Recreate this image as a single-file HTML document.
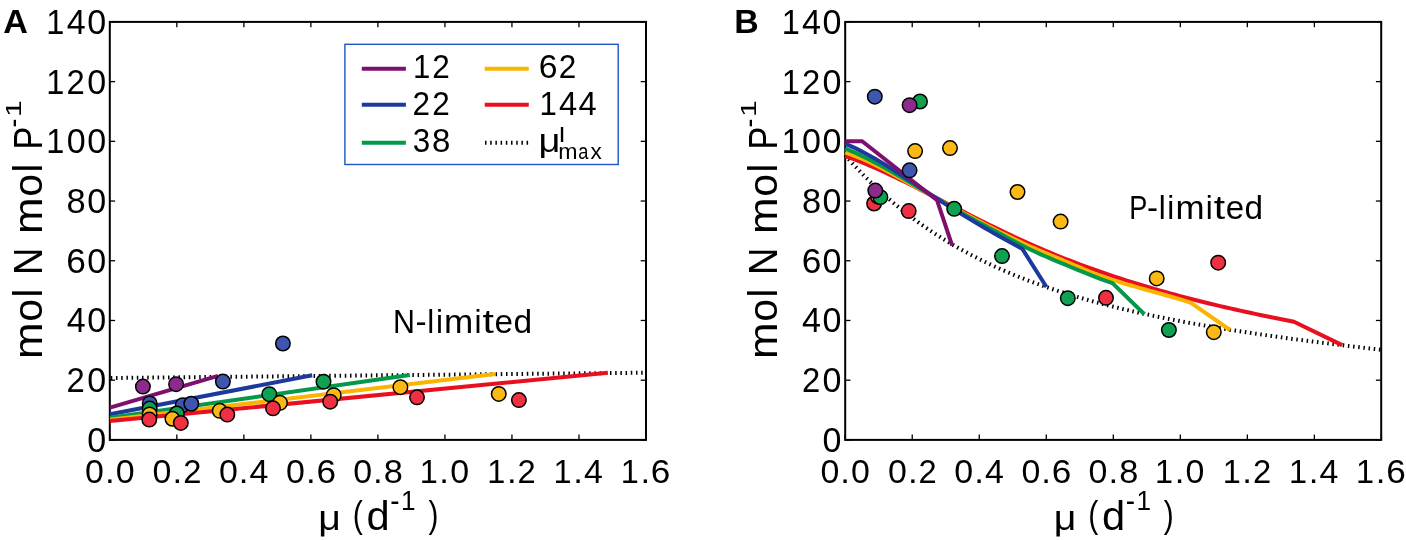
<!DOCTYPE html>
<html><head><meta charset="utf-8"><title>N:P ratio vs growth rate</title>
<style>
html,body{margin:0;padding:0;background:#fff;}
body{width:1406px;height:540px;overflow:hidden;}
svg{display:block;font-family:"Liberation Sans", sans-serif;will-change:transform;}
</style></head>
<body>
<svg width="1406" height="540" viewBox="0 0 1406 540">
<rect x="0" y="0" width="1406" height="540" fill="#fff"/>
<line x1="109.8" y1="439.9" x2="109.8" y2="434.6" stroke="#000" stroke-width="1.3"/>
<line x1="109.8" y1="21.9" x2="109.8" y2="27.2" stroke="#000" stroke-width="1.3"/>
<line x1="176.82" y1="439.9" x2="176.82" y2="434.6" stroke="#000" stroke-width="1.3"/>
<line x1="176.82" y1="21.9" x2="176.82" y2="27.2" stroke="#000" stroke-width="1.3"/>
<line x1="243.85" y1="439.9" x2="243.85" y2="434.6" stroke="#000" stroke-width="1.3"/>
<line x1="243.85" y1="21.9" x2="243.85" y2="27.2" stroke="#000" stroke-width="1.3"/>
<line x1="310.88" y1="439.9" x2="310.88" y2="434.6" stroke="#000" stroke-width="1.3"/>
<line x1="310.88" y1="21.9" x2="310.88" y2="27.2" stroke="#000" stroke-width="1.3"/>
<line x1="377.9" y1="439.9" x2="377.9" y2="434.6" stroke="#000" stroke-width="1.3"/>
<line x1="377.9" y1="21.9" x2="377.9" y2="27.2" stroke="#000" stroke-width="1.3"/>
<line x1="444.93" y1="439.9" x2="444.93" y2="434.6" stroke="#000" stroke-width="1.3"/>
<line x1="444.93" y1="21.9" x2="444.93" y2="27.2" stroke="#000" stroke-width="1.3"/>
<line x1="511.95" y1="439.9" x2="511.95" y2="434.6" stroke="#000" stroke-width="1.3"/>
<line x1="511.95" y1="21.9" x2="511.95" y2="27.2" stroke="#000" stroke-width="1.3"/>
<line x1="578.98" y1="439.9" x2="578.98" y2="434.6" stroke="#000" stroke-width="1.3"/>
<line x1="578.98" y1="21.9" x2="578.98" y2="27.2" stroke="#000" stroke-width="1.3"/>
<line x1="646" y1="439.9" x2="646" y2="434.6" stroke="#000" stroke-width="1.3"/>
<line x1="646" y1="21.9" x2="646" y2="27.2" stroke="#000" stroke-width="1.3"/>
<line x1="109.8" y1="439.9" x2="115.1" y2="439.9" stroke="#000" stroke-width="1.3"/>
<line x1="646" y1="439.9" x2="640.7" y2="439.9" stroke="#000" stroke-width="1.3"/>
<line x1="109.8" y1="380.19" x2="115.1" y2="380.19" stroke="#000" stroke-width="1.3"/>
<line x1="646" y1="380.19" x2="640.7" y2="380.19" stroke="#000" stroke-width="1.3"/>
<line x1="109.8" y1="320.47" x2="115.1" y2="320.47" stroke="#000" stroke-width="1.3"/>
<line x1="646" y1="320.47" x2="640.7" y2="320.47" stroke="#000" stroke-width="1.3"/>
<line x1="109.8" y1="260.76" x2="115.1" y2="260.76" stroke="#000" stroke-width="1.3"/>
<line x1="646" y1="260.76" x2="640.7" y2="260.76" stroke="#000" stroke-width="1.3"/>
<line x1="109.8" y1="201.04" x2="115.1" y2="201.04" stroke="#000" stroke-width="1.3"/>
<line x1="646" y1="201.04" x2="640.7" y2="201.04" stroke="#000" stroke-width="1.3"/>
<line x1="109.8" y1="141.33" x2="115.1" y2="141.33" stroke="#000" stroke-width="1.3"/>
<line x1="646" y1="141.33" x2="640.7" y2="141.33" stroke="#000" stroke-width="1.3"/>
<line x1="109.8" y1="81.61" x2="115.1" y2="81.61" stroke="#000" stroke-width="1.3"/>
<line x1="646" y1="81.61" x2="640.7" y2="81.61" stroke="#000" stroke-width="1.3"/>
<line x1="109.8" y1="21.9" x2="115.1" y2="21.9" stroke="#000" stroke-width="1.3"/>
<line x1="646" y1="21.9" x2="640.7" y2="21.9" stroke="#000" stroke-width="1.3"/>
<rect x="109.8" y="21.9" width="536.2" height="418" fill="none" stroke="#000" stroke-width="2"/>
<line x1="845.2" y1="439.9" x2="845.2" y2="434.6" stroke="#000" stroke-width="1.3"/>
<line x1="845.2" y1="21.9" x2="845.2" y2="27.2" stroke="#000" stroke-width="1.3"/>
<line x1="912.23" y1="439.9" x2="912.23" y2="434.6" stroke="#000" stroke-width="1.3"/>
<line x1="912.23" y1="21.9" x2="912.23" y2="27.2" stroke="#000" stroke-width="1.3"/>
<line x1="979.25" y1="439.9" x2="979.25" y2="434.6" stroke="#000" stroke-width="1.3"/>
<line x1="979.25" y1="21.9" x2="979.25" y2="27.2" stroke="#000" stroke-width="1.3"/>
<line x1="1046.28" y1="439.9" x2="1046.28" y2="434.6" stroke="#000" stroke-width="1.3"/>
<line x1="1046.28" y1="21.9" x2="1046.28" y2="27.2" stroke="#000" stroke-width="1.3"/>
<line x1="1113.3" y1="439.9" x2="1113.3" y2="434.6" stroke="#000" stroke-width="1.3"/>
<line x1="1113.3" y1="21.9" x2="1113.3" y2="27.2" stroke="#000" stroke-width="1.3"/>
<line x1="1180.33" y1="439.9" x2="1180.33" y2="434.6" stroke="#000" stroke-width="1.3"/>
<line x1="1180.33" y1="21.9" x2="1180.33" y2="27.2" stroke="#000" stroke-width="1.3"/>
<line x1="1247.35" y1="439.9" x2="1247.35" y2="434.6" stroke="#000" stroke-width="1.3"/>
<line x1="1247.35" y1="21.9" x2="1247.35" y2="27.2" stroke="#000" stroke-width="1.3"/>
<line x1="1314.38" y1="439.9" x2="1314.38" y2="434.6" stroke="#000" stroke-width="1.3"/>
<line x1="1314.38" y1="21.9" x2="1314.38" y2="27.2" stroke="#000" stroke-width="1.3"/>
<line x1="1381.4" y1="439.9" x2="1381.4" y2="434.6" stroke="#000" stroke-width="1.3"/>
<line x1="1381.4" y1="21.9" x2="1381.4" y2="27.2" stroke="#000" stroke-width="1.3"/>
<line x1="845.2" y1="439.9" x2="850.5" y2="439.9" stroke="#000" stroke-width="1.3"/>
<line x1="1381.2" y1="439.9" x2="1375.9" y2="439.9" stroke="#000" stroke-width="1.3"/>
<line x1="845.2" y1="380.19" x2="850.5" y2="380.19" stroke="#000" stroke-width="1.3"/>
<line x1="1381.2" y1="380.19" x2="1375.9" y2="380.19" stroke="#000" stroke-width="1.3"/>
<line x1="845.2" y1="320.47" x2="850.5" y2="320.47" stroke="#000" stroke-width="1.3"/>
<line x1="1381.2" y1="320.47" x2="1375.9" y2="320.47" stroke="#000" stroke-width="1.3"/>
<line x1="845.2" y1="260.76" x2="850.5" y2="260.76" stroke="#000" stroke-width="1.3"/>
<line x1="1381.2" y1="260.76" x2="1375.9" y2="260.76" stroke="#000" stroke-width="1.3"/>
<line x1="845.2" y1="201.04" x2="850.5" y2="201.04" stroke="#000" stroke-width="1.3"/>
<line x1="1381.2" y1="201.04" x2="1375.9" y2="201.04" stroke="#000" stroke-width="1.3"/>
<line x1="845.2" y1="141.33" x2="850.5" y2="141.33" stroke="#000" stroke-width="1.3"/>
<line x1="1381.2" y1="141.33" x2="1375.9" y2="141.33" stroke="#000" stroke-width="1.3"/>
<line x1="845.2" y1="81.61" x2="850.5" y2="81.61" stroke="#000" stroke-width="1.3"/>
<line x1="1381.2" y1="81.61" x2="1375.9" y2="81.61" stroke="#000" stroke-width="1.3"/>
<line x1="845.2" y1="21.9" x2="850.5" y2="21.9" stroke="#000" stroke-width="1.3"/>
<line x1="1381.2" y1="21.9" x2="1375.9" y2="21.9" stroke="#000" stroke-width="1.3"/>
<rect x="845.2" y="21.9" width="536" height="418" fill="none" stroke="#000" stroke-width="2"/>
<polyline points="110.8,378 645,372.7" fill="none" stroke="#000" stroke-width="4" stroke-dasharray="1.5 3.7" stroke-linecap="butt"/>
<polyline points="110,407.6 218,375.8" fill="none" stroke="#7f0f6f" stroke-width="4" stroke-linejoin="round" stroke-linecap="butt"/>
<polyline points="110,414.3 312.2,375.3" fill="none" stroke="#1c3a9c" stroke-width="4" stroke-linejoin="round" stroke-linecap="butt"/>
<polyline points="110,417.7 409.8,375" fill="none" stroke="#03984a" stroke-width="4" stroke-linejoin="round" stroke-linecap="butt"/>
<polyline points="110,419.7 495,374.1" fill="none" stroke="#fbb500" stroke-width="4" stroke-linejoin="round" stroke-linecap="butt"/>
<polyline points="110,421.1 607.9,372.75" fill="none" stroke="#e8101f" stroke-width="4" stroke-linejoin="round" stroke-linecap="butt"/>
<circle cx="142.9" cy="386.6" r="7.25" fill="#8d2a8d" stroke="#000" stroke-width="1.5"/>
<circle cx="176.1" cy="384.2" r="7.25" fill="#8d2a8d" stroke="#000" stroke-width="1.5"/>
<circle cx="149.7" cy="403.4" r="7.25" fill="#3f56b0" stroke="#000" stroke-width="1.5"/>
<circle cx="182.7" cy="405.2" r="7.25" fill="#3f56b0" stroke="#000" stroke-width="1.5"/>
<circle cx="191.25" cy="403.75" r="7.25" fill="#3f56b0" stroke="#000" stroke-width="1.5"/>
<circle cx="222.9" cy="381.6" r="7.25" fill="#3f56b0" stroke="#000" stroke-width="1.5"/>
<circle cx="282.9" cy="343.5" r="7.25" fill="#3f56b0" stroke="#000" stroke-width="1.5"/>
<circle cx="149.7" cy="408.6" r="7.25" fill="#0ea152" stroke="#000" stroke-width="1.5"/>
<circle cx="176.8" cy="413.5" r="7.25" fill="#0ea152" stroke="#000" stroke-width="1.5"/>
<circle cx="269.3" cy="394.2" r="7.25" fill="#0ea152" stroke="#000" stroke-width="1.5"/>
<circle cx="323.5" cy="381.7" r="7.25" fill="#0ea152" stroke="#000" stroke-width="1.5"/>
<circle cx="149.6" cy="414.4" r="7.25" fill="#fcb915" stroke="#000" stroke-width="1.5"/>
<circle cx="172.4" cy="418.75" r="7.25" fill="#fcb915" stroke="#000" stroke-width="1.5"/>
<circle cx="219.7" cy="410.8" r="7.25" fill="#fcb915" stroke="#000" stroke-width="1.5"/>
<circle cx="280" cy="402.8" r="7.25" fill="#fcb915" stroke="#000" stroke-width="1.5"/>
<circle cx="333.7" cy="395.2" r="7.25" fill="#fcb915" stroke="#000" stroke-width="1.5"/>
<circle cx="400.4" cy="387.2" r="7.25" fill="#fcb915" stroke="#000" stroke-width="1.5"/>
<circle cx="498.75" cy="393.9" r="7.25" fill="#fcb915" stroke="#000" stroke-width="1.5"/>
<circle cx="149.3" cy="419.6" r="7.25" fill="#ee3042" stroke="#000" stroke-width="1.5"/>
<circle cx="180.8" cy="422.9" r="7.25" fill="#ee3042" stroke="#000" stroke-width="1.5"/>
<circle cx="227.3" cy="414.6" r="7.25" fill="#ee3042" stroke="#000" stroke-width="1.5"/>
<circle cx="273" cy="408.3" r="7.25" fill="#ee3042" stroke="#000" stroke-width="1.5"/>
<circle cx="330.2" cy="401.7" r="7.25" fill="#ee3042" stroke="#000" stroke-width="1.5"/>
<circle cx="417" cy="397.3" r="7.25" fill="#ee3042" stroke="#000" stroke-width="1.5"/>
<circle cx="518.9" cy="400.1" r="7.25" fill="#ee3042" stroke="#000" stroke-width="1.5"/>
<polyline points="845.2,155.26 851.2,162.02 857.2,168.52 863.2,174.78 869.2,180.8 875.2,186.59 881.2,192.17 887.2,197.53 893.2,202.7 899.2,207.67 905.2,212.46 911.2,217.07 917.2,221.51 923.2,225.79 929.2,229.92 935.2,233.89 941.2,237.72 947.2,241.42 953.2,244.99 959.2,248.43 965.2,251.74 971.2,254.95 977.2,258.04 983.2,261.03 989.2,263.91 995.2,266.7 1001.2,269.39 1007.2,272 1013.2,274.52 1019.2,276.95 1025.2,279.31 1031.2,281.59 1037.2,283.8 1043.2,285.94 1049.2,288.01 1055.2,290.02 1061.2,291.97 1067.2,293.86 1073.2,295.69 1079.2,297.47 1085.2,299.2 1091.2,300.88 1097.2,302.51 1103.2,304.1 1109.2,305.64 1115.2,307.14 1121.2,308.6 1127.2,310.02 1133.2,311.41 1139.2,312.76 1145.2,314.07 1151.2,315.35 1157.2,316.61 1163.2,317.83 1169.2,319.02 1175.2,320.19 1181.2,321.33 1187.2,322.45 1193.2,323.54 1199.2,324.61 1205.2,325.65 1211.2,326.68 1217.2,327.68 1223.2,328.67 1229.2,329.64 1235.2,330.58 1241.2,331.52 1247.2,332.43 1253.2,333.33 1259.2,334.21 1265.2,335.08 1271.2,335.94 1277.2,336.78 1283.2,337.61 1289.2,338.43 1295.2,339.24 1301.2,340.03 1307.2,340.82 1313.2,341.59 1319.2,342.35 1325.2,343.11 1331.2,343.85 1337.2,344.59 1343.2,345.32 1349.2,346.04 1355.2,346.75 1361.2,347.46 1367.2,348.15 1373.2,348.84 1379.2,349.53 1381.2,349.76" fill="none" stroke="#000" stroke-width="4" stroke-dasharray="1.5 3.7" stroke-linecap="butt"/>
<polyline points="845.2,156.03 850.2,157.82 855.2,159.7 860.2,161.66 865.2,163.69 870.2,165.8 875.2,167.97 880.2,170.2 885.2,172.48 890.2,174.82 895.2,177.2 900.2,179.62 905.2,182.08 910.2,184.57 915.2,187.08 920.2,189.61 925.2,192.16 930.2,194.72 935.2,197.28 940.2,199.85 945.2,202.42 950.2,204.98 955.2,207.55 960.2,210.1 965.2,212.65 970.2,215.19 975.2,217.72 980.2,220.23 985.2,222.72 990.2,225.2 995.2,227.65 1000.2,230.09 1005.2,232.49 1010.2,234.87 1015.2,237.22 1020.2,239.54 1025.2,241.82 1030.2,244.07 1035.2,246.28 1040.2,248.45 1045.2,250.58 1050.2,252.68 1055.2,254.74 1060.2,256.76 1065.2,258.75 1070.2,260.7 1075.2,262.62 1080.2,264.51 1085.2,266.37 1090.2,268.19 1095.2,269.98 1100.2,271.74 1105.2,273.47 1110.2,275.17 1115.2,276.84 1120.2,278.48 1125.2,280.09 1130.2,281.67 1135.2,283.23 1140.2,284.76 1145.2,286.26 1150.2,287.74 1155.2,289.19 1160.2,290.62 1165.2,292.03 1170.2,293.41 1175.2,294.77 1180.2,296.11 1185.2,297.42 1190.2,298.72 1195.2,299.99 1200.2,301.25 1205.2,302.48 1210.2,303.7 1215.2,304.9 1220.2,306.08 1225.2,307.24 1230.2,308.39 1235.2,309.52 1240.2,310.63 1245.2,311.73 1250.2,312.82 1255.2,313.89 1260.2,314.95 1265.2,316 1270.2,317.03 1275.2,318.05 1280.2,319.07 1285.2,320.07 1290.2,321.06 1294,321.81 1342.2,345.1" fill="none" stroke="#e8101f" stroke-width="4" stroke-linejoin="round" stroke-linecap="butt"/>
<polyline points="845.2,152.62 850.2,154.22 855.2,156.03 860.2,158.02 865.2,160.18 870.2,162.49 875.2,164.92 880.2,167.46 885.2,170.08 890.2,172.76 895.2,175.5 900.2,178.25 905.2,181.02 910.2,183.78 915.2,186.55 920.2,189.32 925.2,192.09 930.2,194.85 935.2,197.61 940.2,200.36 945.2,203.1 950.2,205.83 955.2,208.55 960.2,211.25 965.2,213.94 970.2,216.61 975.2,219.26 980.2,221.89 985.2,224.49 990.2,227.07 995.2,229.63 1000.2,232.16 1005.2,234.65 1010.2,237.11 1015.2,239.53 1020.2,241.9 1025.2,244.22 1030.2,246.48 1035.2,248.68 1040.2,250.82 1045.2,252.94 1050.2,255.02 1055.2,257.1 1060.2,259.17 1065.2,261.26 1070.2,263.37 1075.2,265.52 1080.2,267.67 1085.2,269.78 1090.2,271.83 1095.2,273.78 1100.2,275.63 1105.2,277.4 1110.2,279.1 1115.2,280.72 1120.2,282.28 1125.2,283.8 1130.2,285.27 1135.2,286.7 1140.2,288.11 1145.2,289.5 1150.2,290.88 1155.2,292.25 1160.2,293.64 1165.2,295.04 1170.2,296.46 1175.2,297.92 1180.2,299.41 1185.2,300.96 1190.2,302.56 1190.7,302.73 1230,330" fill="none" stroke="#fbb500" stroke-width="4" stroke-linejoin="round" stroke-linecap="butt"/>
<polyline points="845.2,148.46 850.2,150.56 855.2,152.78 860.2,155.1 865.2,157.53 870.2,160.04 875.2,162.64 880.2,165.32 885.2,168.07 890.2,170.87 895.2,173.73 900.2,176.64 905.2,179.58 910.2,182.55 915.2,185.55 920.2,188.56 925.2,191.58 930.2,194.59 935.2,197.6 940.2,200.59 945.2,203.56 950.2,206.5 955.2,209.4 960.2,212.25 965.2,215.05 970.2,217.8 975.2,220.51 980.2,223.18 985.2,225.84 990.2,228.49 995.2,231.14 1000.2,233.79 1005.2,236.47 1010.2,239.14 1015.2,241.79 1020.2,244.4 1025.2,246.95 1030.2,249.42 1035.2,251.79 1040.2,254.08 1045.2,256.29 1050.2,258.45 1055.2,260.56 1060.2,262.63 1065.2,264.69 1070.2,266.75 1075.2,268.81 1080.2,270.86 1085.2,272.9 1090.2,274.9 1095.2,276.86 1100.2,278.76 1105.2,280.59 1110.2,282.33 1112.5,283.1 1144.4,314.3" fill="none" stroke="#03984a" stroke-width="4" stroke-linejoin="round" stroke-linecap="butt"/>
<polyline points="845.2,143.74 850.2,145.87 855.2,148.16 860.2,150.61 865.2,153.21 870.2,155.93 875.2,158.77 880.2,161.71 885.2,164.74 890.2,167.86 895.2,171.04 900.2,174.28 905.2,177.56 910.2,180.86 915.2,184.19 920.2,187.52 925.2,190.84 930.2,194.14 935.2,197.41 940.2,200.65 945.2,203.85 950.2,207.02 955.2,210.16 960.2,213.26 965.2,216.33 970.2,219.36 975.2,222.36 980.2,225.32 985.2,228.24 990.2,231.13 995.2,233.97 1000.2,236.78 1005.2,239.56 1010.2,242.29 1015.2,244.98 1020.2,247.64 1022.2,248.69 1046.5,287" fill="none" stroke="#1c3a9c" stroke-width="4" stroke-linejoin="round" stroke-linecap="butt"/>
<polyline points="845.2,141.2 862.2,141.2 937,200.2 952.2,245.6" fill="none" stroke="#7f0f6f" stroke-width="4" stroke-linejoin="round" stroke-linecap="butt"/>
<circle cx="874.1" cy="203.5" r="7.25" fill="#ee3042" stroke="#000" stroke-width="1.5"/>
<circle cx="908.7" cy="211.1" r="7.25" fill="#ee3042" stroke="#000" stroke-width="1.5"/>
<circle cx="1106" cy="297.8" r="7.25" fill="#ee3042" stroke="#000" stroke-width="1.5"/>
<circle cx="1218.2" cy="262.7" r="7.25" fill="#ee3042" stroke="#000" stroke-width="1.5"/>
<circle cx="878" cy="196.5" r="7.25" fill="#fcb915" stroke="#000" stroke-width="1.5"/>
<circle cx="915.1" cy="151.1" r="7.25" fill="#fcb915" stroke="#000" stroke-width="1.5"/>
<circle cx="950" cy="148.1" r="7.25" fill="#fcb915" stroke="#000" stroke-width="1.5"/>
<circle cx="1017.5" cy="192" r="7.25" fill="#fcb915" stroke="#000" stroke-width="1.5"/>
<circle cx="1060.6" cy="221.6" r="7.25" fill="#fcb915" stroke="#000" stroke-width="1.5"/>
<circle cx="1156.7" cy="278.4" r="7.25" fill="#fcb915" stroke="#000" stroke-width="1.5"/>
<circle cx="1213.8" cy="332.2" r="7.25" fill="#fcb915" stroke="#000" stroke-width="1.5"/>
<circle cx="880.4" cy="197.2" r="7.25" fill="#0ea152" stroke="#000" stroke-width="1.5"/>
<circle cx="920" cy="101.5" r="7.25" fill="#0ea152" stroke="#000" stroke-width="1.5"/>
<circle cx="954.2" cy="208.8" r="7.25" fill="#0ea152" stroke="#000" stroke-width="1.5"/>
<circle cx="1002" cy="256.1" r="7.25" fill="#0ea152" stroke="#000" stroke-width="1.5"/>
<circle cx="1067.8" cy="298.2" r="7.25" fill="#0ea152" stroke="#000" stroke-width="1.5"/>
<circle cx="1168.9" cy="330" r="7.25" fill="#0ea152" stroke="#000" stroke-width="1.5"/>
<circle cx="874.8" cy="96.7" r="7.25" fill="#3f56b0" stroke="#000" stroke-width="1.5"/>
<circle cx="909.6" cy="170.3" r="7.25" fill="#3f56b0" stroke="#000" stroke-width="1.5"/>
<circle cx="909.6" cy="105.2" r="7.25" fill="#8d2a8d" stroke="#000" stroke-width="1.5"/>
<circle cx="875.3" cy="190.6" r="7.25" fill="#8d2a8d" stroke="#000" stroke-width="1.5"/>
<text transform="translate(87.19,451.9) scale(0.994,1)" font-size="34.24">0</text>
<text transform="translate(66.56,392.19) scale(0.959,1)" font-size="34.24">2</text>
<text transform="translate(87.19,392.19) scale(0.994,1)" font-size="34.24">0</text>
<text transform="translate(66.64,332.47) scale(0.995,1)" font-size="34.24">4</text>
<text transform="translate(87.19,332.47) scale(0.994,1)" font-size="34.24">0</text>
<text transform="translate(66.31,272.76) scale(1.029,1)" font-size="34.24">6</text>
<text transform="translate(87.19,272.76) scale(0.994,1)" font-size="34.24">0</text>
<text transform="translate(66.54,213.04) scale(1.005,1)" font-size="34.24">8</text>
<text transform="translate(87.19,213.04) scale(0.994,1)" font-size="34.24">0</text>
<text transform="translate(46.37,153.33) scale(0.950,1)" font-size="34.24">1</text>
<text transform="translate(66.64,153.33) scale(0.994,1)" font-size="34.24">0</text>
<text transform="translate(87.19,153.33) scale(0.994,1)" font-size="34.24">0</text>
<text transform="translate(46.37,93.61) scale(0.950,1)" font-size="34.24">1</text>
<text transform="translate(66.56,93.61) scale(0.959,1)" font-size="34.24">2</text>
<text transform="translate(87.19,93.61) scale(0.994,1)" font-size="34.24">0</text>
<text transform="translate(46.37,33.9) scale(0.950,1)" font-size="34.24">1</text>
<text transform="translate(66.64,33.9) scale(0.995,1)" font-size="34.24">4</text>
<text transform="translate(87.19,33.9) scale(0.994,1)" font-size="34.24">0</text>
<text transform="translate(85,483) scale(0.994,1)" font-size="34.13">0</text>
<text transform="translate(104.95,483) scale(1.021,1)" font-size="34.13">.</text>
<text transform="translate(115.72,483) scale(0.994,1)" font-size="34.13">0</text>
<text transform="translate(152.57,483) scale(0.994,1)" font-size="34.13">0</text>
<text transform="translate(172.52,483) scale(1.021,1)" font-size="34.13">.</text>
<text transform="translate(183.21,483) scale(0.959,1)" font-size="34.13">2</text>
<text transform="translate(218.89,483) scale(0.994,1)" font-size="34.13">0</text>
<text transform="translate(238.84,483) scale(1.021,1)" font-size="34.13">.</text>
<text transform="translate(249.6,483) scale(0.995,1)" font-size="34.13">4</text>
<text transform="translate(286.02,483) scale(0.994,1)" font-size="34.13">0</text>
<text transform="translate(305.97,483) scale(1.021,1)" font-size="34.13">.</text>
<text transform="translate(316.41,483) scale(1.029,1)" font-size="34.13">6</text>
<text transform="translate(353.13,483) scale(0.994,1)" font-size="34.13">0</text>
<text transform="translate(373.08,483) scale(1.021,1)" font-size="34.13">.</text>
<text transform="translate(383.75,483) scale(1.005,1)" font-size="34.13">8</text>
<text transform="translate(419.69,483) scale(0.950,1)" font-size="34.13">1</text>
<text transform="translate(439.37,483) scale(1.021,1)" font-size="34.13">.</text>
<text transform="translate(450.14,483) scale(0.994,1)" font-size="34.13">0</text>
<text transform="translate(487.26,483) scale(0.950,1)" font-size="34.13">1</text>
<text transform="translate(506.94,483) scale(1.021,1)" font-size="34.13">.</text>
<text transform="translate(517.62,483) scale(0.959,1)" font-size="34.13">2</text>
<text transform="translate(553.57,483) scale(0.950,1)" font-size="34.13">1</text>
<text transform="translate(573.25,483) scale(1.021,1)" font-size="34.13">.</text>
<text transform="translate(584.02,483) scale(0.995,1)" font-size="34.13">4</text>
<text transform="translate(620.71,483) scale(0.950,1)" font-size="34.13">1</text>
<text transform="translate(640.39,483) scale(1.021,1)" font-size="34.13">.</text>
<text transform="translate(650.83,483) scale(1.029,1)" font-size="34.13">6</text>
<text transform="translate(822.59,451.9) scale(0.994,1)" font-size="34.24">0</text>
<text transform="translate(801.96,392.19) scale(0.959,1)" font-size="34.24">2</text>
<text transform="translate(822.59,392.19) scale(0.994,1)" font-size="34.24">0</text>
<text transform="translate(802.04,332.47) scale(0.995,1)" font-size="34.24">4</text>
<text transform="translate(822.59,332.47) scale(0.994,1)" font-size="34.24">0</text>
<text transform="translate(801.71,272.76) scale(1.029,1)" font-size="34.24">6</text>
<text transform="translate(822.59,272.76) scale(0.994,1)" font-size="34.24">0</text>
<text transform="translate(801.94,213.04) scale(1.005,1)" font-size="34.24">8</text>
<text transform="translate(822.59,213.04) scale(0.994,1)" font-size="34.24">0</text>
<text transform="translate(781.77,153.33) scale(0.950,1)" font-size="34.24">1</text>
<text transform="translate(802.04,153.33) scale(0.994,1)" font-size="34.24">0</text>
<text transform="translate(822.59,153.33) scale(0.994,1)" font-size="34.24">0</text>
<text transform="translate(781.77,93.61) scale(0.950,1)" font-size="34.24">1</text>
<text transform="translate(801.96,93.61) scale(0.959,1)" font-size="34.24">2</text>
<text transform="translate(822.59,93.61) scale(0.994,1)" font-size="34.24">0</text>
<text transform="translate(781.77,33.9) scale(0.950,1)" font-size="34.24">1</text>
<text transform="translate(802.04,33.9) scale(0.995,1)" font-size="34.24">4</text>
<text transform="translate(822.59,33.9) scale(0.994,1)" font-size="34.24">0</text>
<text transform="translate(820.4,483) scale(0.994,1)" font-size="34.13">0</text>
<text transform="translate(840.35,483) scale(1.021,1)" font-size="34.13">.</text>
<text transform="translate(851.12,483) scale(0.994,1)" font-size="34.13">0</text>
<text transform="translate(887.97,483) scale(0.994,1)" font-size="34.13">0</text>
<text transform="translate(907.92,483) scale(1.021,1)" font-size="34.13">.</text>
<text transform="translate(918.61,483) scale(0.959,1)" font-size="34.13">2</text>
<text transform="translate(954.29,483) scale(0.994,1)" font-size="34.13">0</text>
<text transform="translate(974.24,483) scale(1.021,1)" font-size="34.13">.</text>
<text transform="translate(985,483) scale(0.995,1)" font-size="34.13">4</text>
<text transform="translate(1021.42,483) scale(0.994,1)" font-size="34.13">0</text>
<text transform="translate(1041.37,483) scale(1.021,1)" font-size="34.13">.</text>
<text transform="translate(1051.81,483) scale(1.029,1)" font-size="34.13">6</text>
<text transform="translate(1088.53,483) scale(0.994,1)" font-size="34.13">0</text>
<text transform="translate(1108.48,483) scale(1.021,1)" font-size="34.13">.</text>
<text transform="translate(1119.15,483) scale(1.005,1)" font-size="34.13">8</text>
<text transform="translate(1155.09,483) scale(0.950,1)" font-size="34.13">1</text>
<text transform="translate(1174.77,483) scale(1.021,1)" font-size="34.13">.</text>
<text transform="translate(1185.54,483) scale(0.994,1)" font-size="34.13">0</text>
<text transform="translate(1222.66,483) scale(0.950,1)" font-size="34.13">1</text>
<text transform="translate(1242.34,483) scale(1.021,1)" font-size="34.13">.</text>
<text transform="translate(1253.02,483) scale(0.959,1)" font-size="34.13">2</text>
<text transform="translate(1288.97,483) scale(0.950,1)" font-size="34.13">1</text>
<text transform="translate(1308.65,483) scale(1.021,1)" font-size="34.13">.</text>
<text transform="translate(1319.42,483) scale(0.995,1)" font-size="34.13">4</text>
<text transform="translate(1356.11,483) scale(0.950,1)" font-size="34.13">1</text>
<text transform="translate(1375.79,483) scale(1.021,1)" font-size="34.13">.</text>
<text transform="translate(1386.23,483) scale(1.029,1)" font-size="34.13">6</text>
<text transform="translate(3.15,32.7) scale(1.008,1)" font-size="33.87" font-weight="bold">A</text>
<text transform="translate(734.23,33.2) scale(1.024,1)" font-size="33.14" font-weight="bold">B</text>
<text transform="translate(392.9,333.3) scale(0.932,1)" font-size="32.65">N</text>
<text transform="translate(415.45,333.3) scale(1.017,1)" font-size="32.65">-</text>
<text transform="translate(427.31,333.3) scale(0.964,1)" font-size="32.65">l</text>
<text transform="translate(435.88,333.3) scale(0.964,1)" font-size="32.65">i</text>
<text transform="translate(444.11,333.3) scale(1.075,1)" font-size="32.65">m</text>
<text transform="translate(474.44,333.3) scale(0.964,1)" font-size="32.65">i</text>
<text transform="translate(482.41,333.3) scale(1.261,1)" font-size="32.65">t</text>
<text transform="translate(494.57,333.3) scale(1.019,1)" font-size="32.65">e</text>
<text transform="translate(513.52,333.3) scale(1.025,1)" font-size="32.65">d</text>
<text transform="translate(1129.28,219.4) scale(0.834,1)" font-size="32.49">P</text>
<text transform="translate(1147,219.4) scale(1.017,1)" font-size="32.49">-</text>
<text transform="translate(1158.81,219.4) scale(0.964,1)" font-size="32.49">l</text>
<text transform="translate(1167.34,219.4) scale(0.964,1)" font-size="32.49">i</text>
<text transform="translate(1175.53,219.4) scale(1.075,1)" font-size="32.49">m</text>
<text transform="translate(1205.71,219.4) scale(0.964,1)" font-size="32.49">i</text>
<text transform="translate(1213.64,219.4) scale(1.261,1)" font-size="32.49">t</text>
<text transform="translate(1225.74,219.4) scale(1.019,1)" font-size="32.49">e</text>
<text transform="translate(1244.6,219.4) scale(1.025,1)" font-size="32.49">d</text>
<text transform="translate(318.35,530.24) scale(1.131,1)" font-size="34.71">&#956;</text>
<text transform="translate(352.73,527.02) scale(0.824,1)" font-size="36.6">(</text>
<text transform="translate(366.55,529.9) scale(1.025,1)" font-size="40.58">d</text>
<text transform="translate(390.36,510.96) scale(0.907,1)" font-size="30.72">-</text>
<text transform="translate(401,509.6) scale(0.959,1)" font-size="27.33">1</text>
<text transform="translate(428.43,527.02) scale(0.814,1)" font-size="36.6">)</text>
<text transform="translate(1053.75,530.24) scale(1.131,1)" font-size="34.71">&#956;</text>
<text transform="translate(1088.13,527.02) scale(0.824,1)" font-size="36.6">(</text>
<text transform="translate(1101.95,529.9) scale(1.025,1)" font-size="40.58">d</text>
<text transform="translate(1125.76,510.96) scale(0.907,1)" font-size="30.72">-</text>
<text transform="translate(1136.4,509.6) scale(0.959,1)" font-size="27.33">1</text>
<text transform="translate(1163.83,527.02) scale(0.814,1)" font-size="36.6">)</text>
<g transform="translate(0,0) rotate(-90)">
<text transform="translate(-359.01,41.6) scale(1.075,1)" font-size="40.81">m</text>
<text transform="translate(-321.69,41.6) scale(1.003,1)" font-size="40.81">o</text>
<text transform="translate(-297.56,41.6) scale(0.964,1)" font-size="40.81">l</text>
<text transform="translate(-274.94,41.6) scale(0.932,1)" font-size="40.81">N</text>
<text transform="translate(-233.98,41.6) scale(1.075,1)" font-size="40.81">m</text>
<text transform="translate(-196.66,41.6) scale(1.003,1)" font-size="40.81">o</text>
<text transform="translate(-172.53,41.6) scale(0.964,1)" font-size="40.81">l</text>
<text transform="translate(-149.59,41.6) scale(0.834,1)" font-size="40.81">P</text>
<text transform="translate(-127.48,23.27) scale(0.904,1)" font-size="29.44">-</text>
<text transform="translate(-116.88,20.7) scale(1.328,1)" font-size="22.53">1</text>
</g>
<g transform="translate(735.4,0) rotate(-90)">
<text transform="translate(-359.01,41.6) scale(1.075,1)" font-size="40.81">m</text>
<text transform="translate(-321.69,41.6) scale(1.003,1)" font-size="40.81">o</text>
<text transform="translate(-297.56,41.6) scale(0.964,1)" font-size="40.81">l</text>
<text transform="translate(-274.94,41.6) scale(0.932,1)" font-size="40.81">N</text>
<text transform="translate(-233.98,41.6) scale(1.075,1)" font-size="40.81">m</text>
<text transform="translate(-196.66,41.6) scale(1.003,1)" font-size="40.81">o</text>
<text transform="translate(-172.53,41.6) scale(0.964,1)" font-size="40.81">l</text>
<text transform="translate(-149.59,41.6) scale(0.834,1)" font-size="40.81">P</text>
<text transform="translate(-127.48,23.27) scale(0.904,1)" font-size="29.44">-</text>
<text transform="translate(-116.88,20.7) scale(1.328,1)" font-size="22.53">1</text>
</g>
<rect x="344.9" y="44.3" width="273.3" height="120.2" fill="#fff" stroke="#1f55c4" stroke-width="1.4"/>
<line x1="361.8" y1="68.8" x2="405.9" y2="68.8" stroke="#7f0f6f" stroke-width="4"/>
<text transform="translate(412.92,78.4) scale(0.950,1)" font-size="32.86">1</text>
<text transform="translate(432.3,78.4) scale(0.959,1)" font-size="32.86">2</text>
<line x1="361.8" y1="104.7" x2="405.9" y2="104.7" stroke="#1c3a9c" stroke-width="4"/>
<text transform="translate(412.52,114.8) scale(0.959,1)" font-size="32.86">2</text>
<text transform="translate(432.24,114.8) scale(0.959,1)" font-size="32.86">2</text>
<line x1="361.8" y1="142.8" x2="405.9" y2="142.8" stroke="#03984a" stroke-width="4"/>
<text transform="translate(412.8,151.7) scale(0.955,1)" font-size="32.86">3</text>
<text transform="translate(432.03,151.7) scale(1.005,1)" font-size="32.86">8</text>
<line x1="484.7" y1="68.8" x2="528.8" y2="68.8" stroke="#fbb500" stroke-width="4"/>
<text transform="translate(538.78,78.3) scale(1.029,1)" font-size="32.86">6</text>
<text transform="translate(558.74,78.3) scale(0.959,1)" font-size="32.86">2</text>
<line x1="484.7" y1="104.7" x2="528.8" y2="104.7" stroke="#e8101f" stroke-width="4"/>
<text transform="translate(539.42,114.8) scale(0.950,1)" font-size="32.86">1</text>
<text transform="translate(558.88,114.8) scale(0.995,1)" font-size="32.86">4</text>
<text transform="translate(578.6,114.8) scale(0.995,1)" font-size="32.86">4</text>
<line x1="485.0" y1="142.7" x2="529.0" y2="142.7" stroke="#000" stroke-width="4" stroke-dasharray="1.5 3.7"/>
<text transform="translate(538.53,151.94) scale(1.168,1)" font-size="32.63">&#956;</text>
<text transform="translate(559.06,141.7) scale(1.374,1)" font-size="19.87">l</text>
<text transform="translate(558.26,159.3) scale(1.075,1)" font-size="21.52">m</text>
<text transform="translate(578.17,159.3) scale(0.848,1)" font-size="21.52">a</text>
<text transform="translate(590.5,159.3) scale(1.047,1)" font-size="21.52">x</text>
</svg>
</body></html>
